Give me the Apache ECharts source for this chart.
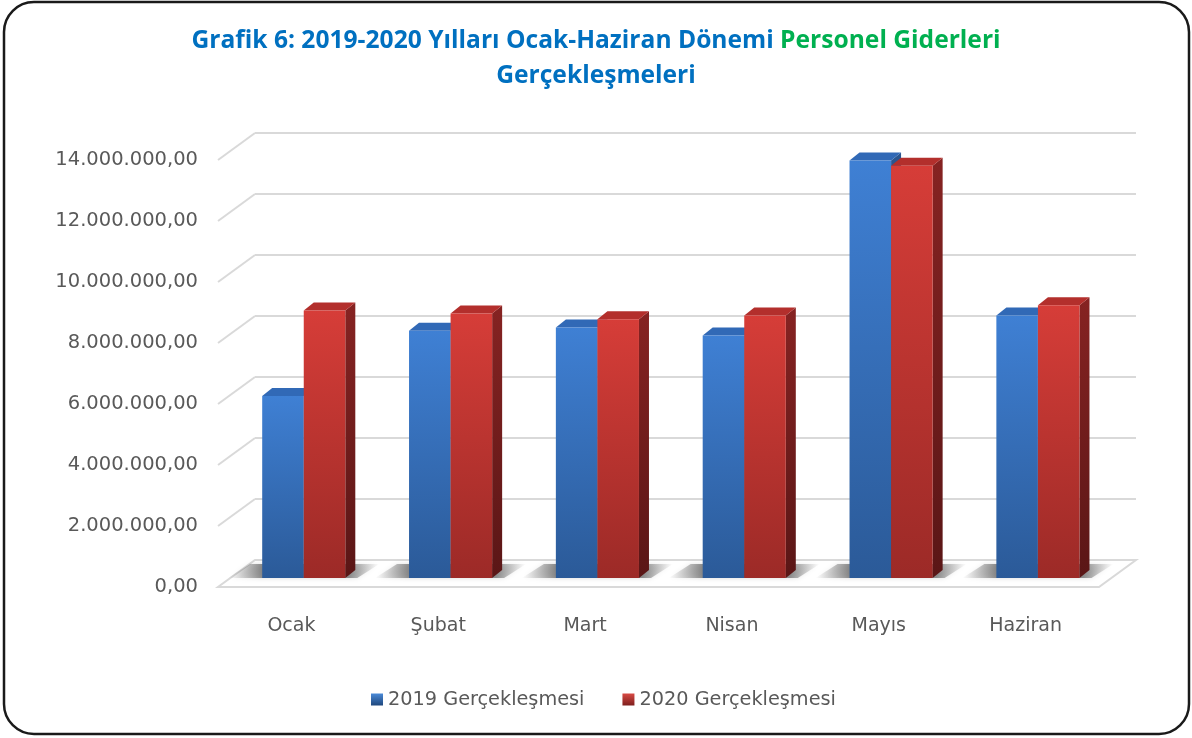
<!DOCTYPE html>
<html><head><meta charset="utf-8">
<script src="https://cdn.jsdelivr.net/npm/echarts@6/dist/echarts.min.js"></script>
<style>html,body{margin:0;padding:0;background:#fff}#c{width:1192px;height:738px}</style>
</head><body><div id="c"></div>
<script>
const categories = ['Ocak', 'Şubat', 'Mart', 'Nisan', 'Mayıs', 'Haziran'];
const series2019 = [5970000, 8110000, 8210000, 7950000, 13690000, 8610000];
const series2020 = [8770000, 8670000, 8480000, 8610000, 13520000, 8940000];
const yTicks = [0, 2000000, 4000000, 6000000, 8000000, 10000000, 12000000, 14000000];
const seriesNames = ['2019 Gerçekleşmesi', '2020 Gerçekleşmesi'];
const titleLine1a = 'Grafik 6: 2019-2020 Yılları Ocak-Haziran Dönemi ';
const titleLine1b = 'Personel Giderleri';
const titleLine2 = 'Gerçekleşmeleri';

const TFONT = '"Open Sans", Lato, sans-serif';
const AFONT = '"DejaVu Sans", sans-serif';
const DEPTH = [-37, 27];       // back wall -> front edge
const BAR_DEPTH = [10, -8];    // bar front -> bar back
const BAR_FRAC = 0.283;
const GRID_W = 881, GRID_H = 427;

function fmt(v) {
  return Math.round(v).toString().replace(/\B(?=(\d{3})+(?!\d))/g, '.') + ',00';
}
const lg = (a, b, c) => new echarts.graphic.LinearGradient(0, 0, c ? 1 : 0, c ? 0 : 1, [{offset: 0, color: a}, {offset: 1, color: b}]);

const COLORS = [
  {front: ['#3f80d4', '#2b5a98'], top: '#3169b6', side: ['#2a5690', '#1d3d68'], legend: ['#4a8ad8', '#1f477c']},
  {front: ['#d63d38', '#9c2a27'], top: '#b32f2c', side: ['#862322', '#5a1616'], legend: ['#d84a44', '#7e1f1d']}
];

function barRender(si) {
  return function (params, api) {
    const cat = api.value(0), val = api.value(1);
    const top = api.coord([cat, val]);
    const base = api.coord([cat, 0]);
    const bw = api.size([1, 0])[0] * BAR_FRAC;
    const x0 = top[0] + (si === 0 ? -bw : 0);
    const x1 = x0 + bw;
    const c = COLORS[si];
    const dx = BAR_DEPTH[0], dy = BAR_DEPTH[1];
    return {
      type: 'group',
      children: [
        {type: 'polygon', shape: {points: [[x1, top[1]], [x1 + dx, top[1] + dy], [x1 + dx, base[1] + dy], [x1, base[1]]]},
          style: {fill: lg(c.side[0], c.side[1])}},
        {type: 'polygon', shape: {points: [[x0, top[1]], [x1, top[1]], [x1 + dx, top[1] + dy], [x0 + dx, top[1] + dy]]},
          style: {fill: c.top}},
        {type: 'rect', shape: {x: x0, y: top[1], width: bw, height: base[1] - top[1]},
          style: {fill: lg(c.front[0], c.front[1])}}
      ]
    };
  };
}

function shadowRender(params, api) {
  const cat = api.value(0);
  const base = api.coord([cat, 0]);
  const bw = api.size([1, 0])[0] * BAR_FRAC;
  const xl = base[0] - bw, xr = base[0] + bw + BAR_DEPTH[0];
  const y = base[1];
  return {
    type: 'polygon',
    shape: {points: [[xl - 34, y], [xr + 2, y], [xr + 24, y - 14], [xl - 12, y - 14]]},
    style: {fill: new echarts.graphic.LinearGradient(0, 0, 1, 0, [
      {offset: 0, color: 'rgba(110,110,110,0)'}, {offset: 0.22, color: 'rgba(80,80,80,0.6)'},
      {offset: 0.8, color: 'rgba(80,80,80,0.6)'}, {offset: 1, color: 'rgba(110,110,110,0)'}]),
      shadowBlur: 5, shadowColor: 'rgba(0,0,0,0.25)'}
  };
}

function wallRender(params, api) {
  const cs = params.coordSys;
  const v = api.value(1);
  const y = api.coord([0, v])[1];
  const x = cs.x;
  if (v === 0) {
    return {
      type: 'polygon',
      shape: {points: [[x, y], [x + cs.width, y], [x + cs.width + DEPTH[0], y + DEPTH[1]], [x + DEPTH[0], y + DEPTH[1]]]},
      style: {fill: '#fff', stroke: '#d9d9d9', lineWidth: 2}
    };
  }
  return {type: 'line', shape: {x1: x, y1: y, x2: x + DEPTH[0], y2: y + DEPTH[1]},
    style: {stroke: '#d9d9d9', lineWidth: 2}};
}

const yBase = {type: 'value', min: 0, max: 14000000, interval: 2000000};
const chart = echarts.init(document.getElementById('c'), null, {renderer: 'canvas'});
chart.setOption({
  animation: false,
  backgroundColor: '#fff',
  title: {
    left: 'center', top: 18,
    text: '{b|' + titleLine1a + '}{g|' + titleLine1b + '}\n{b|' + titleLine2 + '}',
    textStyle: {
      rich: {
        b: {color: '#0070C0', fontSize: 24.6, fontWeight: 'bold', fontFamily: TFONT, lineHeight: 35},
        g: {color: '#00B050', fontSize: 24.6, fontWeight: 'bold', fontFamily: TFONT, lineHeight: 35}
      }
    }
  },
  legend: {
    top: 685, left: 366, itemWidth: 12, itemHeight: 12, itemGap: 38,
    textStyle: {fontSize: 19.3, color: '#595959', fontFamily: AFONT},
    data: [
      {name: seriesNames[0], icon: 'rect', itemStyle: {color: lg(COLORS[0].legend[0], COLORS[0].legend[1])}},
      {name: seriesNames[1], icon: 'rect', itemStyle: {color: lg(COLORS[1].legend[0], COLORS[1].legend[1])}}
    ]
  },
  grid: [
    {left: 255, top: 133, width: GRID_W, height: GRID_H},
    {left: 255 + DEPTH[0] * 18 / 27, top: 151, width: GRID_W, height: GRID_H},
    {left: 255 + DEPTH[0], top: 133 + DEPTH[1], width: GRID_W, height: GRID_H}
  ],
  xAxis: [
    {type: 'category', data: categories, gridIndex: 0, show: false},
    {type: 'category', data: categories, gridIndex: 1, show: false},
    {type: 'category', data: categories, gridIndex: 2, axisLine: {show: false}, axisTick: {show: false},
      axisLabel: {margin: 30, fontSize: 19, color: '#595959', fontFamily: AFONT}}
  ],
  yAxis: [
    Object.assign({gridIndex: 0, axisLine: {show: false}, axisTick: {show: false}, axisLabel: {show: false},
      splitLine: {lineStyle: {color: '#d9d9d9', width: 2}}}, yBase),
    Object.assign({gridIndex: 1, show: false}, yBase),
    Object.assign({gridIndex: 2, axisLine: {show: false}, axisTick: {show: false}, splitLine: {show: false},
      axisLabel: {margin: 20, fontSize: 19.5, color: '#595959', fontFamily: AFONT, formatter: fmt}}, yBase)
  ],
  series: [
    {type: 'custom', xAxisIndex: 0, yAxisIndex: 0, z: 1, silent: true,
      data: yTicks.map(v => [0, v]), renderItem: wallRender},
    {type: 'custom', xAxisIndex: 1, yAxisIndex: 1, z: 2, silent: true,
      data: categories.map((c, i) => [i, 0]), renderItem: shadowRender},
    {type: 'custom', name: seriesNames[0], xAxisIndex: 1, yAxisIndex: 1, z: 3,
      itemStyle: {color: COLORS[0].front[0]},
      data: series2019.map((v, i) => [i, v]), renderItem: barRender(0)},
    {type: 'custom', name: seriesNames[1], xAxisIndex: 1, yAxisIndex: 1, z: 4,
      itemStyle: {color: COLORS[1].front[0]},
      data: series2020.map((v, i) => [i, v]), renderItem: barRender(1)}
  ],
  graphic: [
    {type: 'rect', z: 100, silent: true, shape: {x: 4, y: 2, width: 1185, height: 732, r: 30},
      style: {fill: 'none', stroke: '#1a1a1a', lineWidth: 2.5}}
  ]
});
</script>
</body></html>
